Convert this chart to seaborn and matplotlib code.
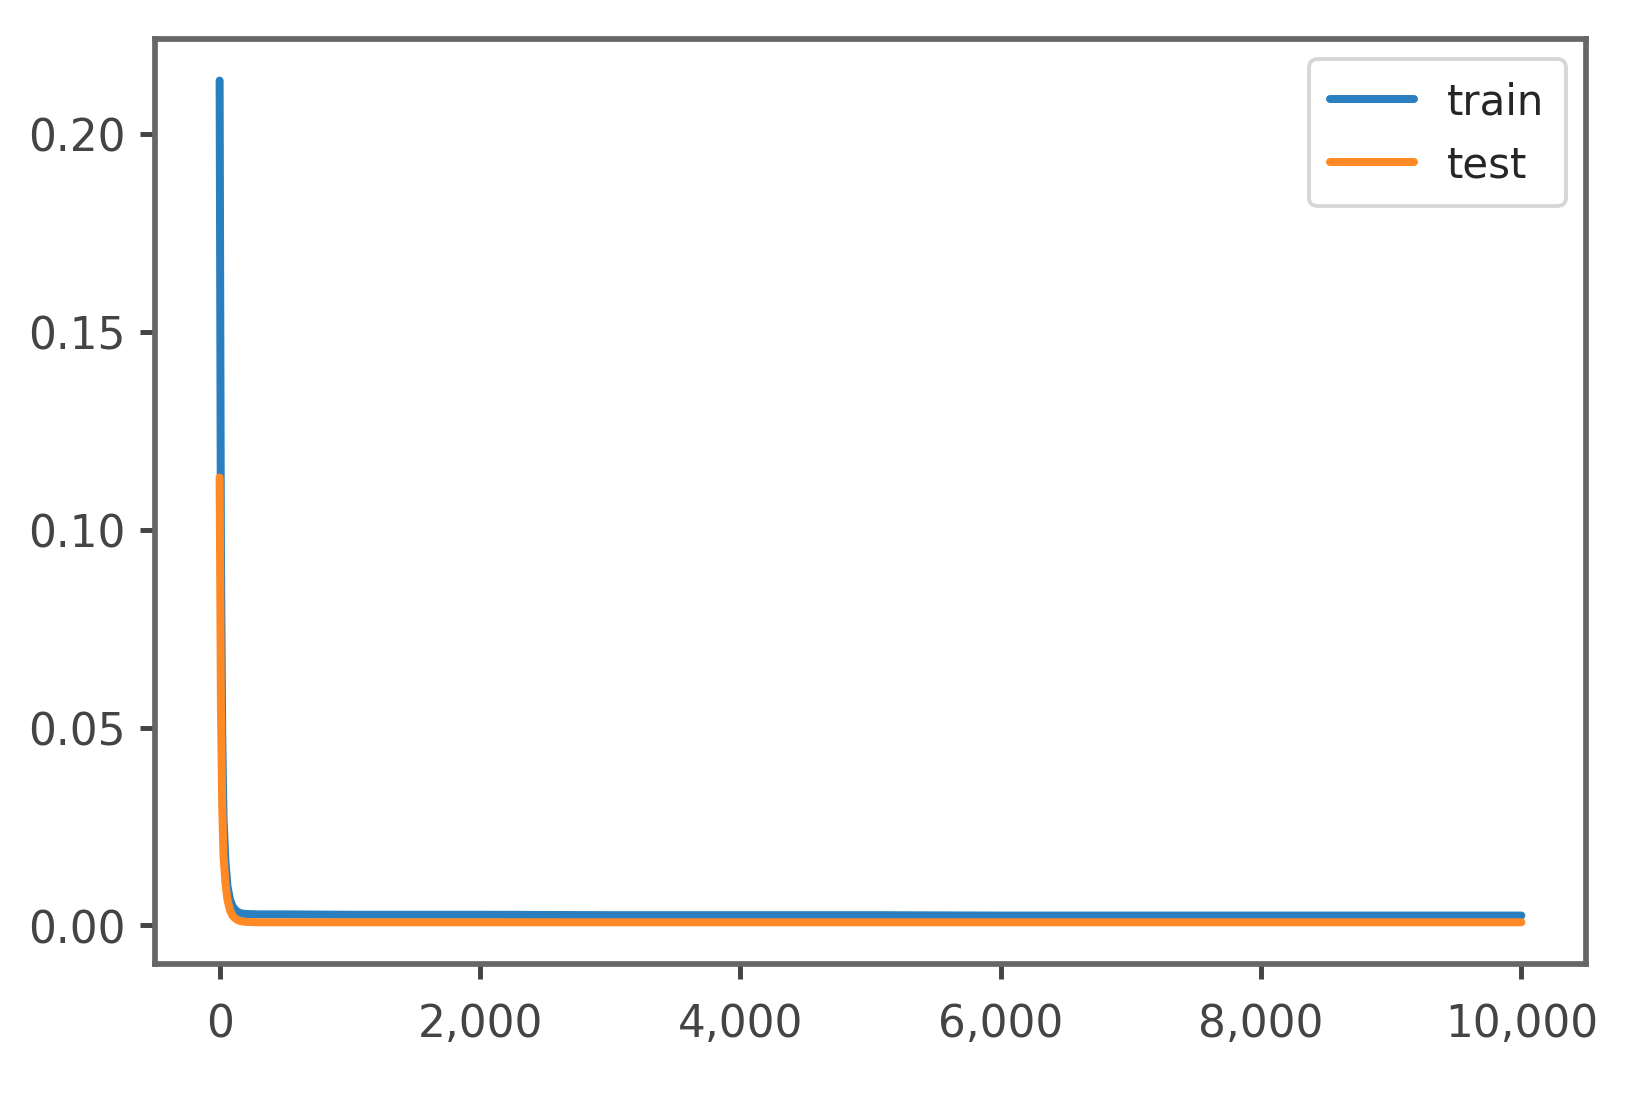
import numpy as np
import pandas as pd
import matplotlib
matplotlib.use('Agg')
import matplotlib.pyplot as plt
import matplotlib.ticker as mticker
import seaborn as sns

# values
epochs = [0, 10, 20, 30, 45, 60, 80, 100, 130, 160, 200, 300, 500, 1000, 1500, 2000,
          3000, 4000, 5000, 6000, 7000, 8000, 9000, 10000]
train_loss = [0.2135, 0.095, 0.048, 0.027, 0.016, 0.010, 0.0065, 0.0048, 0.0036, 0.0031,
              0.0029, 0.0028, 0.0028, 0.0027, 0.0027, 0.0027, 0.0026, 0.0026, 0.0026,
              0.0025, 0.0025, 0.0025, 0.0025, 0.0025]
test_loss = [0.1132, 0.055, 0.030, 0.0174, 0.0105, 0.0065, 0.0038, 0.0024, 0.0015, 0.0011,
             0.0009, 0.0008, 0.0008, 0.0008, 0.0008, 0.0008, 0.0008, 0.0008, 0.0008,
             0.0008, 0.0008, 0.0008, 0.0008, 0.0008]

df = pd.DataFrame({'epoch': epochs * 2,
                   'loss': train_loss + test_loss,
                   'set': ['train'] * len(epochs) + ['test'] * len(epochs)})

sns.set_style('ticks')
plt.rcParams['font.family'] = ['DejaVu Sans']

fig, ax = plt.subplots(figsize=(6.0, 4.0036), dpi=274)
fig.subplots_adjust(left=0.094, right=0.965, top=0.964, bottom=0.120)

sns.lineplot(data=df, x='epoch', y='loss', hue='set', hue_order=['train', 'test'],
             palette=['#2a7fc0', '#ff8a25'], linewidth=2.1, ax=ax)

ax.set_xlabel('')
ax.set_ylabel('')
ax.set_yticks([0.0, 0.05, 0.10, 0.15, 0.20])
ax.yaxis.set_major_formatter(mticker.FormatStrFormatter('%.2f'))
ax.set_xticks([0, 2000, 4000, 6000, 8000, 10000])
ax.xaxis.set_major_formatter(mticker.StrMethodFormatter('{x:,.0f}'))
ax.tick_params(labelsize=11.5, colors='#444444', width=1.3, length=4)
ax.tick_params(axis='x', pad=6)
for s in ax.spines.values():
    s.set_visible(True)
    s.set_color('#666666')
    s.set_linewidth(1.5)

leg = ax.legend(loc='upper right', fontsize=11, handlelength=2.0, borderpad=0.5)
leg.set_title(None)

plt.savefig('out.png')
